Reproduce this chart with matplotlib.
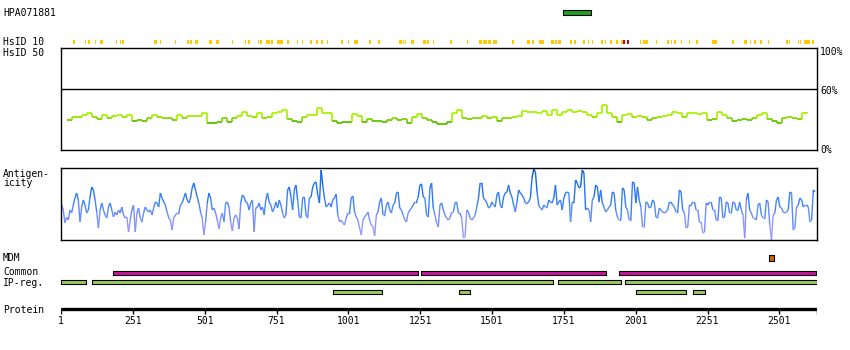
import numpy as np
import matplotlib
matplotlib.use("Agg")
import matplotlib.pyplot as plt
from matplotlib.collections import LineCollection
from matplotlib.colors import LinearSegmentedColormap, Normalize

plt.rcParams["font.family"] = ["DejaVu Sans Mono", "DejaVu Sans"]
plt.rcParams["font.size"] = 7

W, H = 850, 350
seq_len = 2632

# ---- data -------------------------------------------------------------
antibody = "HPA071881"
hpa_range = (1748, 1845)

hsid10_yellow = [(42, 49), (84, 89), (96, 101), (119, 123), (137, 147), (191, 196),
                 (206, 210), (215, 219), (325, 334), (345, 349), (396, 400), (439, 446),
                 (450, 457), (468, 477), (515, 525), (539, 550), (596, 600), (642, 646),
                 (653, 658), (685, 689), (695, 700), (714, 728), (731, 740), (753, 773),
                 (788, 796), (822, 827), (838, 843), (867, 875), (889, 896), (906, 912),
                 (927, 931), (975, 982), (999, 1003), (1021, 1035), (1072, 1079),
                 (1104, 1112), (1178, 1186), (1190, 1194), (1199, 1202), (1220, 1230),
                 (1262, 1270), (1275, 1281), (1295, 1299), (1354, 1362), (1414, 1417),
                 (1456, 1467), (1470, 1482), (1488, 1498), (1503, 1510), (1513, 1517),
                 (1570, 1578), (1624, 1633), (1640, 1647), (1664, 1683), (1707, 1715),
                 (1720, 1727), (1732, 1742), (1773, 1778), (1788, 1793), (1819, 1825),
                 (1836, 1840), (1849, 1853), (1880, 1886), (1894, 1899), (1913, 1920),
                 (1931, 1938), (1951, 1957), (2015, 2021), (2028, 2043), (2073, 2076),
                 (2110, 2118), (2124, 2128), (2136, 2143), (2159, 2163), (2187, 2191),
                 (2211, 2218), (2265, 2284), (2337, 2342), (2379, 2387), (2398, 2404),
                 (2414, 2421), (2432, 2439), (2462, 2466), (2524, 2530), (2533, 2538),
                 (2566, 2571), (2574, 2578), (2588, 2607), (2616, 2623)]
hsid10_red = [(1957, 1964), (1971, 1979)]

# HsID 50 conservation (%)
cons_val = [29.4, 32.7, 32.0, 34.3, 35.9, 32.0, 30.1, 34.3, 31.0, 33.3,
            34.3, 32.0, 34.3, 28.1, 29.4, 28.8, 31.0, 34.3, 32.0, 31.7,
            31.0, 29.7, 34.3, 31.0, 33.3, 33.3, 33.3, 35.9, 26.8, 26.1,
            27.8, 31.0, 27.8, 31.0, 33.3, 37.6, 33.3, 32.0, 35.9, 31.4,
            32.0, 36.6, 37.6, 39.2, 30.1, 28.1, 27.8, 32.0, 34.3, 34.3,
            40.8, 35.9, 35.9, 28.8, 26.8, 27.5, 27.8,
            35.3, 33.6, 27.8, 30.4, 28.4, 28.4, 27.1, 29.7, 31.0, 29.4,
            30.4, 26.1, 32.7, 34.9, 31.0, 29.4, 27.8, 25.5, 25.2, 27.8,
            36.0, 39.2, 31.0, 30.4, 31.7, 31.0, 33.6, 31.0, 32.7, 28.4,
            31.0, 31.7, 32.7, 33.6, 38.2, 36.9, 36.9, 35.9, 38.2, 34.3,
            39.2, 34.3,
            37.6, 39.2, 37.6, 38.5, 37.6, 34.3, 32.0, 36.6, 44.1, 35.9,
            32.7, 27.8, 34.3, 35.3, 32.7, 33.3, 32.0, 29.4, 31.0, 32.0,
            33.3, 34.3, 37.6, 35.9, 32.0, 35.9, 36.6, 35.3, 36.6, 29.4,
            30.1, 37.6, 34.3, 31.0, 28.8, 29.4, 30.1, 29.4, 31.0, 34.3,
            35.9, 30.1, 28.8, 26.8, 31.0, 32.0, 31.0, 30.1, 35.9, 37.6]
cons_pos = np.linspace(23, 2596, len(cons_val))

# antigenicity score (arbitrary units, 0-72)
antigen_val = [
    35, 30, 17, 23, 20, 30, 27, 35, 42, 47, 40, 18, 33, 40, 35, 27, 30, 43, 53, 50,
    40, 28, 12, 30, 37, 30, 25, 22, 33, 37, 30, 23, 28, 25, 30, 27, 33, 25, 22, 23,
    8, 20, 30, 35, 8, 27, 32, 22, 18, 27, 33, 30, 28, 30, 25, 32, 38, 37, 33, 47,
    42, 38, 35, 28, 22, 20, 10, 22, 25, 27, 27, 35, 37, 42, 47, 40, 37, 42, 52, 57,
    50, 43, 37, 28, 22, 5, 18, 37, 47, 42, 30, 32, 27, 20, 11, 22, 27, 18, 37, 38,
    33, 18, 9, 22, 25, 22, 11, 37, 45, 43, 38, 37, 30, 37, 40, 8, 32, 33, 37, 30,
    33, 25, 40, 47, 38, 35, 28, 32, 38, 32, 40, 35, 27, 22, 25, 50, 53, 43, 30, 50,
    55, 40, 23,
    22, 42, 43, 25, 22, 42, 43, 53, 57, 58, 45, 37, 70, 55, 42, 33, 35, 37, 33, 40,
    42, 46, 25, 18, 20, 17, 15, 22, 27, 27, 42, 44, 28, 23, 20, 12, 5, 20, 23, 25,
    28, 20, 15, 13, 4, 25, 28, 38, 42, 25, 25, 35, 38, 30, 27, 35, 37, 47, 48, 32,
    30, 25, 20, 18, 27, 30, 32, 35, 38, 38, 43, 55, 56, 43, 42, 25, 23, 52, 57, 32,
    25, 17, 13, 35, 37, 30, 25, 22, 20, 22, 28, 28, 37, 38, 27, 27, 22, 2, 3, 30,
    28, 22, 20, 22, 25, 33, 42, 57, 57, 42, 40, 37, 32, 33, 38, 35, 33, 45, 48, 35,
    32, 43, 47, 48, 55, 47, 43, 35, 28, 38, 50, 47, 45, 42, 37, 37, 38, 42, 62, 71,
    68, 48, 35, 32, 30, 35, 33, 33, 40, 38, 37, 42, 55, 35, 38,
    40, 30, 42, 47, 48, 47, 18, 38, 37, 60, 57, 52, 53, 70, 67, 30, 32, 30, 18, 40,
    43, 55, 53, 38, 50, 37, 33, 28, 30, 33, 35, 48, 47, 30, 23, 20, 20, 52, 50, 33,
    30, 20, 20, 58, 57, 37, 53, 40, 33, 13, 13, 38, 37, 32, 33, 40, 38, 23, 22, 32,
    30, 28, 27, 28, 30, 38, 38, 35, 33, 28, 28, 50, 48, 30, 27, 12, 13, 35, 35, 38,
    38, 30, 30, 18, 18, 7, 8, 37, 35, 38, 38, 30, 30, 20, 20, 43, 42, 22, 23, 38,
    37, 27, 27, 38, 37, 30, 30, 38, 30, 25, 2, 40, 47, 30, 27, 22, 22, 20, 35, 37,
    25, 22, 22, 40, 38, 15, 0, 25, 27, 40, 43, 33, 32, 28, 27, 28, 30, 48, 47, 10,
    12, 33, 35, 42, 40, 33, 35, 35, 33, 18, 20, 50, 48]
antigen_pos = np.linspace(3, 2625, len(antigen_val))

mdm = [(2466, 2482)]
common = [(181, 1245), (1253, 1897), (1944, 2629)]
ipreg_row1 = [(1, 87), (109, 1712), (1732, 1949), (1965, 2632)]
ipreg_row2 = [(948, 1119), (1387, 1424), (2003, 2175), (2201, 2241)]
protein_ticks = [1, 251, 501, 751, 1001, 1251, 1501, 1751, 2001, 2251, 2501]


# ---- helpers ----------------------------------------------------------
def px_axes(fig, x0, y0, x1, y1):
    return fig.add_axes([x0 / W, 1 - y1 / H, (x1 - x0) / W, (y1 - y0) / H])


def step_segments(x, y):
    xs = np.repeat(x, 2)[1:]
    ys = np.repeat(y, 2)[:-1]
    pts = np.column_stack([xs, ys])
    segs = np.stack([pts[:-1], pts[1:]], axis=1)
    return segs, segs[:, :, 1].max(axis=1)


def line_segments(x, y):
    pts = np.column_stack([x, y])
    segs = np.stack([pts[:-1], pts[1:]], axis=1)
    return segs, segs[:, :, 1].mean(axis=1)


def spans(lst):
    return [(s, e - s) for s, e in lst]


fig = plt.figure(figsize=(W / 100, H / 100), dpi=100)

def label(x, y, s, **kw):
    fig.text(x / W, 1 - y / H, s, va="center", ha="left", **kw)

# ---- conservation box -------------------------------------------------
ax_c = px_axes(fig, 61, 48, 817, 150)
ax_c.set_xlim(1, seq_len)
ax_c.set_ylim(0, 100)
ax_c.set_xticks([])
ax_c.set_yticks([])
for sp in ax_c.spines.values():
    sp.set_linewidth(1.0)
ax_c.axhline(60, color="black", lw=1.0)
cmap_c = LinearSegmentedColormap.from_list("cons", ["#5cbf00", "#aaf500"])
segs, v = step_segments(cons_pos, np.array(cons_val))
lc = LineCollection(segs, cmap=cmap_c, norm=Normalize(28, 34), linewidths=1.3)
lc.set_array(v)
ax_c.add_collection(lc)

label(820, 52, "100%")
label(820, 91, "60%")
label(820, 150, "0%")

# ---- antigenicity box -------------------------------------------------
ax_a = px_axes(fig, 61, 168, 817, 240)
ax_a.set_xlim(1, seq_len)
ax_a.set_ylim(0, 72)
ax_a.set_xticks([])
ax_a.set_yticks([])
for sp in ax_a.spines.values():
    sp.set_linewidth(1.0)
cmap_a = LinearSegmentedColormap.from_list(
    "ag", ["#b4a8ff", "#8a92ff", "#3c84ff", "#1a6ef0", "#0050b8"])
segs, v = line_segments(antigen_pos, np.array(antigen_val))
lc = LineCollection(segs, cmap=cmap_a, norm=Normalize(0, 72), linewidths=1.0)
lc.set_array(v)
ax_a.add_collection(lc)

# ---- feature tracks ---------------------------------------------------
ax_t = px_axes(fig, 61, 0, 817, 350)
ax_t.set_xlim(1, seq_len)
ax_t.set_ylim(350, 0)
ax_t.axis("off")
ax_t.set_zorder(-1)

ax_t.broken_barh([(hpa_range[0], hpa_range[1] - hpa_range[0])], (10, 4.5),
                 facecolor="#1f9e1f", edgecolor="black", lw=0.8)
ax_t.broken_barh(spans(hsid10_yellow), (40, 4.3), facecolor="#ffc800", edgecolor="none")
ax_t.broken_barh(spans(hsid10_red), (40, 4.3), facecolor="#cc0000", edgecolor="none")
ax_t.broken_barh(spans(mdm), (255, 5.5), facecolor="#cc6600", edgecolor="black", lw=0.8)
ax_t.broken_barh(spans(common), (270.7, 4), facecolor="#c8169e", edgecolor="black", lw=0.8)
ax_t.broken_barh(spans(ipreg_row1), (280.3, 4), facecolor="#9acd5a", edgecolor="black", lw=0.8)
ax_t.broken_barh(spans(ipreg_row2), (290, 4), facecolor="#9acd5a", edgecolor="black", lw=0.8)

# protein axis
ax_t.plot([1, seq_len], [309.3, 309.3], color="black", lw=2.4, solid_capstyle="butt")
ax_t.vlines(protein_ticks + [seq_len], 308, 314, color="black", lw=1.0)
for t in protein_ticks:
    ax_t.text(t, 321.5, str(t), ha="center", va="center")

# ---- row labels -------------------------------------------------------
label(3, 13, antibody)
label(3, 42, "HsID 10")
label(3, 52.5, "HsID 50")
label(3, 174, "Antigen-")
label(3, 183.5, "icity")
label(3, 258, "MDM")
label(3, 272, "Common")
label(3, 282.5, "IP-reg.")
label(3, 310, "Protein")

fig.savefig("out.png", dpi=100, facecolor="white")
